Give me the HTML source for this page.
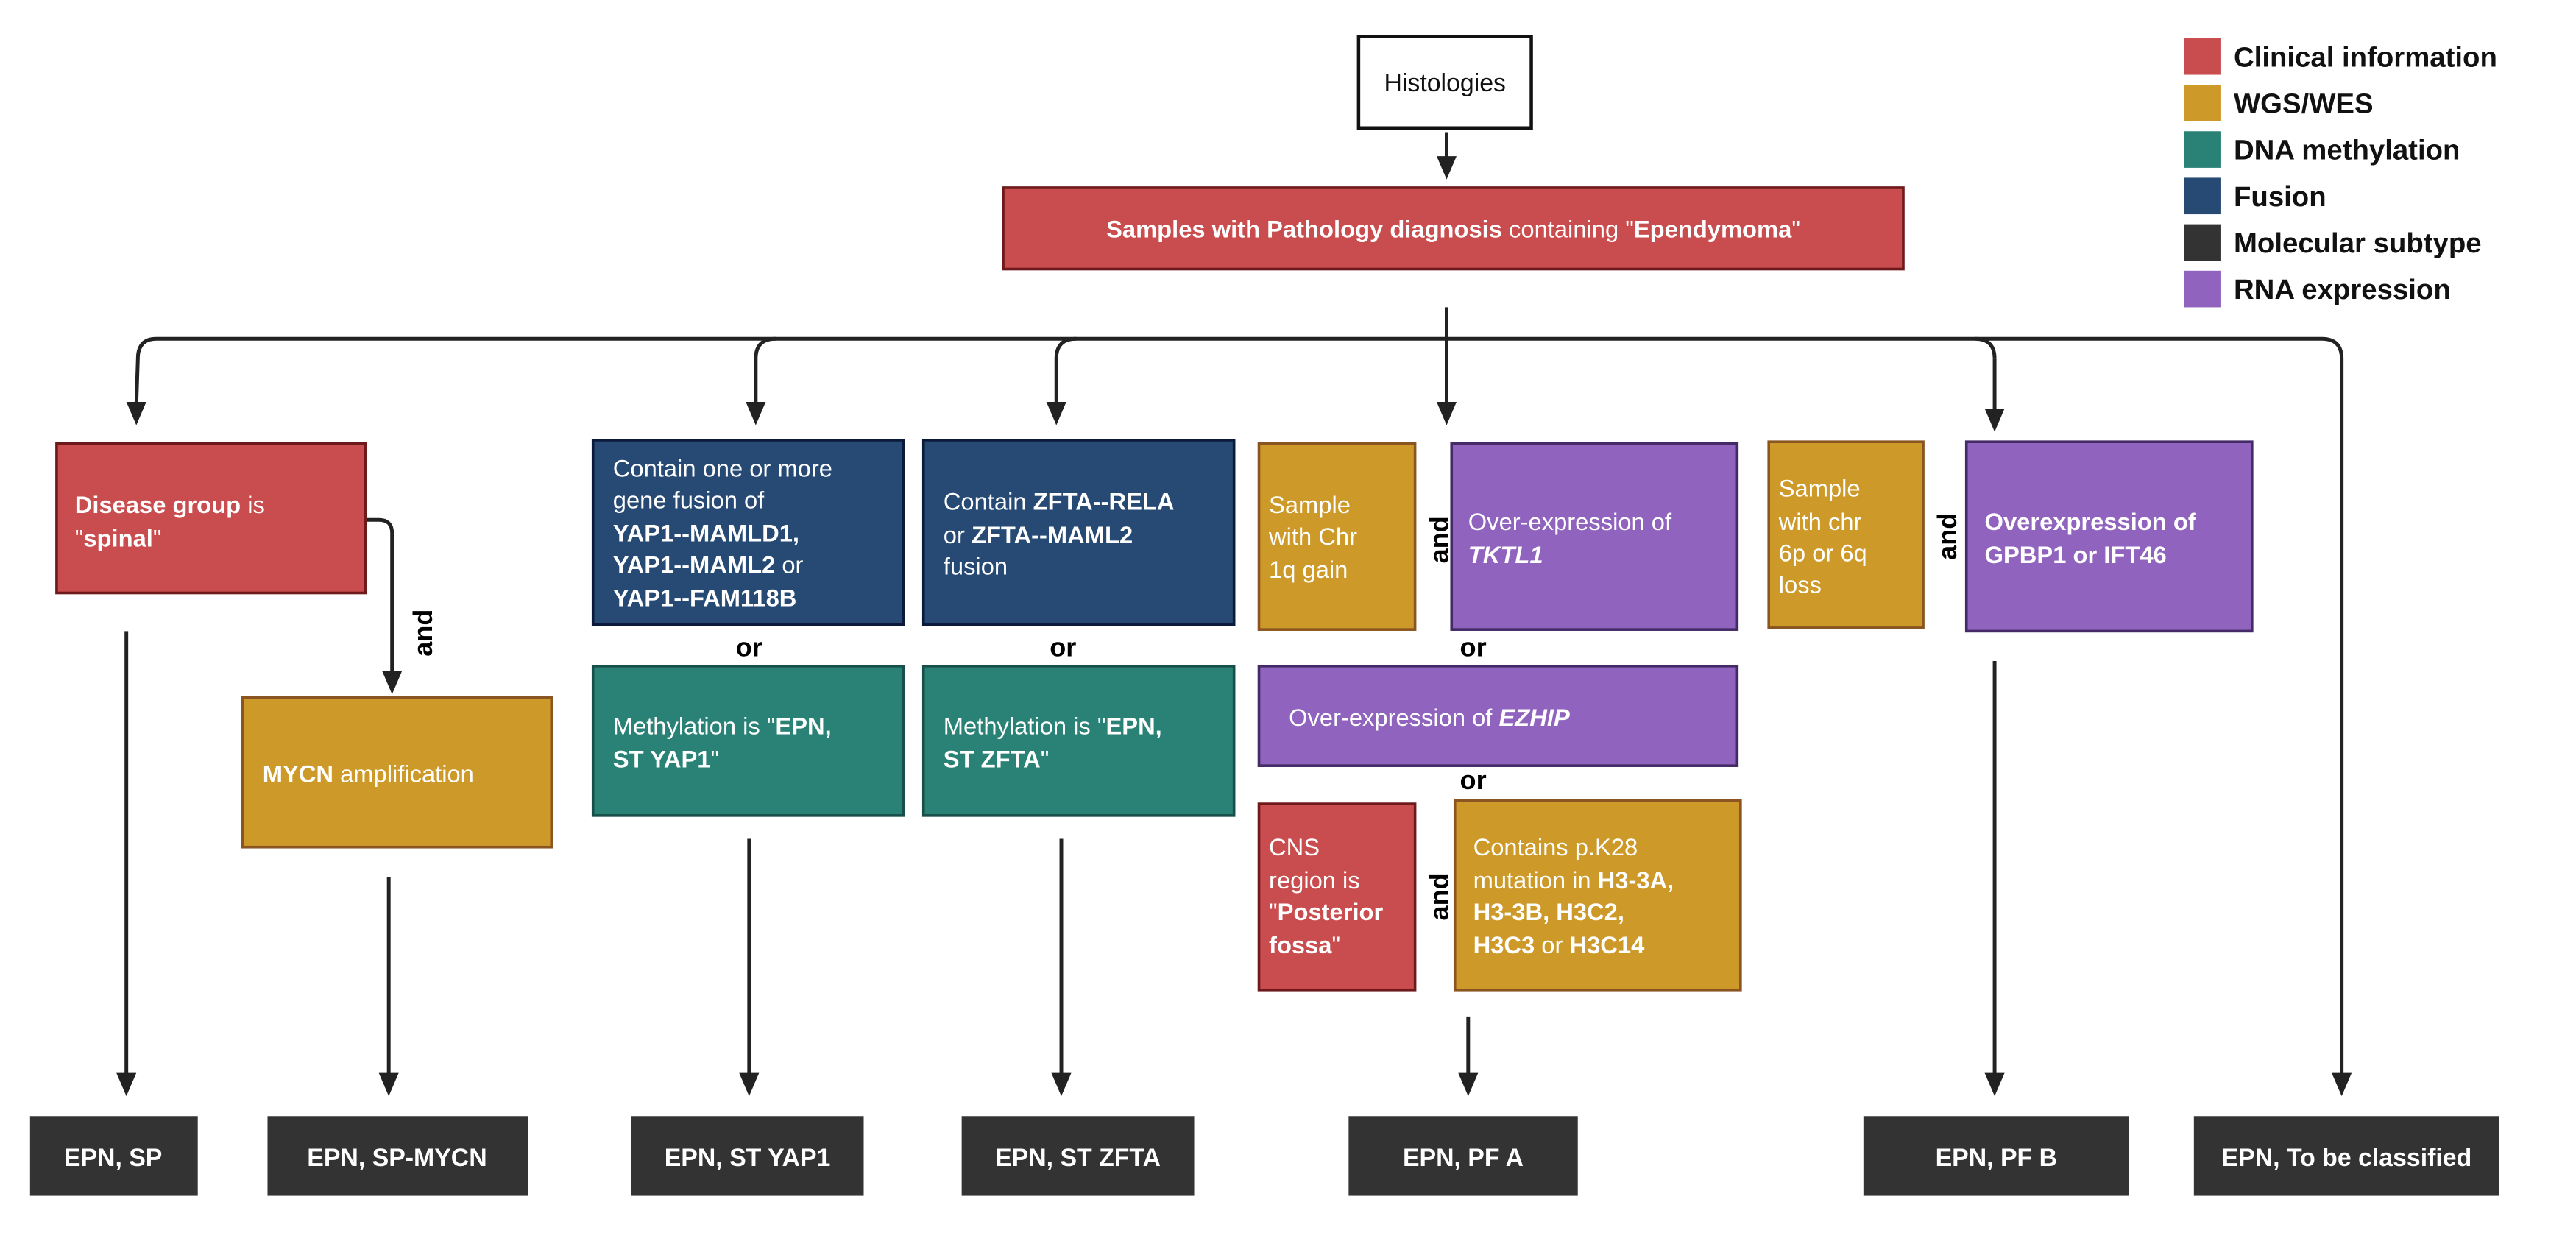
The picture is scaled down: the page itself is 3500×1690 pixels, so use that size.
<!DOCTYPE html>
<html><head><meta charset="utf-8"><style>html,body{margin:0;padding:0;background:#fff}svg{display:block}</style></head>
<body>
<svg width="3500" height="1690" viewBox="0 0 1551 749" xmlns="http://www.w3.org/2000/svg" font-family="'Liberation Sans', sans-serif">
<rect width="1551" height="749" fill="#fff"/>
<g fill="none" stroke="#222" stroke-width="2.2">
<path d="M871 80V96"/>
<path d="M871 185V244"/>
<path d="M1201 216Q1201 204 1189 204H94Q84 204 83 214L82 244"/>
<path d="M455 244V216Q455 204 467 204"/>
<path d="M636 244V216Q636 204 648 204"/>
<path d="M1189 204H1398Q1410 204 1410 216V648"/>
<path d="M1201 216V248"/>
<path d="M220 313H228Q236 313 236 321V406"/>
<path d="M76 380V648"/><path d="M234 528V648"/><path d="M451 505V648"/><path d="M639 505V648"/><path d="M884 612V648"/><path d="M1201 398V648"/>
</g>
<g fill="#222">
<path d="M865 94h12l-6 14z"/>
<path d="M76 242h12l-6 14z"/>
<path d="M449 242h12l-6 14z"/>
<path d="M630 242h12l-6 14z"/>
<path d="M865 242h12l-6 14z"/>
<path d="M1195 246h12l-6 14z"/>
<path d="M230 404h12l-6 14z"/>
<path d="M70 646h12l-6 14z"/><path d="M228 646h12l-6 14z"/><path d="M445 646h12l-6 14z"/><path d="M633 646h12l-6 14z"/><path d="M878 646h12l-6 14z"/><path d="M1195 646h12l-6 14z"/><path d="M1404 646h12l-6 14z"/>
</g>
<rect x="818" y="22" width="104" height="55" fill="#fff" stroke="#111" stroke-width="2"/>
<text x="870" y="55" font-size="15" text-anchor="middle" fill="#111">Histologies</text>
<g stroke-width="1.6">
<rect x="604" y="113" width="542" height="49" fill="#C94D4E" stroke="#6e1a1c"/>
<rect x="34" y="267" width="186" height="90" fill="#C94D4E" stroke="#6e1a1c"/>
<rect x="146" y="420" width="186" height="90" fill="#CD9A29" stroke="#8a5520"/>
<rect x="357" y="265" width="187" height="111" fill="#264A74" stroke="#0b1a3a"/>
<rect x="357" y="401" width="187" height="90" fill="#2A8276" stroke="#17504a"/>
<rect x="556" y="265" width="187" height="111" fill="#264A74" stroke="#0b1a3a"/>
<rect x="556" y="401" width="187" height="90" fill="#2A8276" stroke="#17504a"/>
<rect x="758" y="267" width="94" height="112" fill="#CD9A29" stroke="#8a5520"/>
<rect x="874" y="267" width="172" height="112" fill="#9063BE" stroke="#442a66"/>
<rect x="758" y="401" width="288" height="60" fill="#9063BE" stroke="#442a66"/>
<rect x="758" y="484" width="94" height="112" fill="#C94D4E" stroke="#6e1a1c"/>
<rect x="876" y="482" width="172" height="114" fill="#CD9A29" stroke="#8a5520"/>
<rect x="1065" y="266" width="93" height="112" fill="#CD9A29" stroke="#8a5520"/>
<rect x="1184" y="266" width="172" height="114" fill="#9063BE" stroke="#442a66"/>
</g>
<g fill="#333">
<rect x="18" y="672" width="101" height="48"/><rect x="161" y="672" width="157" height="48"/><rect x="380" y="672" width="140" height="48"/><rect x="579" y="672" width="140" height="48"/><rect x="812" y="672" width="138" height="48"/><rect x="1122" y="672" width="160" height="48"/><rect x="1321" y="672" width="184" height="48"/>
</g>
<g fill="#fff" font-size="15" font-weight="bold" text-anchor="middle">
<text x="68" y="702">EPN, SP</text><text x="239" y="702">EPN, SP-MYCN</text><text x="450" y="702">EPN, ST YAP1</text><text x="649" y="702">EPN, ST ZFTA</text><text x="881" y="702">EPN, PF A</text><text x="1202" y="702">EPN, PF B</text><text x="1413" y="702">EPN, To be classified</text>
</g>
<g fill="#fff" font-size="14.5">
<text x="875" y="143" text-anchor="middle"><tspan font-weight="bold">Samples with Pathology diagnosis</tspan> containing "<tspan font-weight="bold">Ependymoma</tspan>"</text>
<text x="45" y="309"><tspan font-weight="bold">Disease group</tspan> is</text>
<text x="45" y="329">"<tspan font-weight="bold">spinal</tspan>"</text>
<text x="158" y="471"><tspan font-weight="bold">MYCN</tspan> amplification</text>
<text x="369" y="287">Contain one or more</text>
<text x="369" y="306">gene fusion of</text>
<text x="369" y="326" font-weight="bold">YAP1--MAMLD1,</text>
<text x="369" y="345"><tspan font-weight="bold">YAP1--MAML2</tspan> or</text>
<text x="369" y="365" font-weight="bold">YAP1--FAM118B</text>
<text x="369" y="442">Methylation is "<tspan font-weight="bold">EPN,</tspan></text>
<text x="369" y="462"><tspan font-weight="bold">ST YAP1</tspan>"</text>
<text x="568" y="307">Contain <tspan font-weight="bold">ZFTA--RELA</tspan></text>
<text x="568" y="327">or <tspan font-weight="bold">ZFTA--MAML2</tspan></text>
<text x="568" y="346">fusion</text>
<text x="568" y="442">Methylation is "<tspan font-weight="bold">EPN,</tspan></text>
<text x="568" y="462"><tspan font-weight="bold">ST ZFTA</tspan>"</text>
<text x="764" y="309">Sample</text><text x="764" y="328">with Chr</text><text x="764" y="348">1q gain</text>
<text x="884" y="319">Over-expression of</text>
<text x="884" y="339" font-weight="bold" font-style="italic">TKTL1</text>
<text x="776" y="437">Over-expression of <tspan font-weight="bold" font-style="italic">EZHIP</tspan></text>
<text x="764" y="515">CNS</text><text x="764" y="535">region is</text><text x="764" y="554">"<tspan font-weight="bold">Posterior</tspan></text><text x="764" y="574"><tspan font-weight="bold">fossa</tspan>"</text>
<text x="887" y="515">Contains p.K28</text>
<text x="887" y="535">mutation in <tspan font-weight="bold">H3-3A,</tspan></text>
<text x="887" y="554" font-weight="bold">H3-3B, H3C2,</text>
<text x="887" y="574"><tspan font-weight="bold">H3C3</tspan> or <tspan font-weight="bold">H3C14</tspan></text>
<text x="1071" y="299">Sample</text><text x="1071" y="319">with chr</text><text x="1071" y="338">6p or 6q</text><text x="1071" y="357">loss</text>
<text x="1195" y="319" font-weight="bold">Overexpression of</text>
<text x="1195" y="339" font-weight="bold">GPBP1 or IFT46</text>
</g>
<g fill="#000" font-size="16" font-weight="bold" text-anchor="middle">
<text x="451" y="395">or</text><text x="640" y="395">or</text><text x="887" y="395">or</text><text x="887" y="475">or</text>
<text transform="translate(260,381) rotate(-90)">and</text>
<text transform="translate(872,325) rotate(-90)">and</text>
<text transform="translate(872,540) rotate(-90)">and</text>
<text transform="translate(1178,323) rotate(-90)">and</text>
</g>
<g>
<rect x="1315" y="23" width="22" height="22" fill="#C94D4E"/>
<rect x="1315" y="51" width="22" height="22" fill="#CD9A29"/>
<rect x="1315" y="79" width="22" height="22" fill="#2A8276"/>
<rect x="1315" y="107" width="22" height="22" fill="#264A74"/>
<rect x="1315" y="135" width="22" height="22" fill="#333"/>
<rect x="1315" y="163" width="22" height="22" fill="#9063BE"/>
</g>
<g fill="#111" font-size="17" font-weight="bold">
<text x="1345" y="40">Clinical information</text>
<text x="1345" y="68">WGS/WES</text>
<text x="1345" y="96">DNA methylation</text>
<text x="1345" y="124">Fusion</text>
<text x="1345" y="152">Molecular subtype</text>
<text x="1345" y="180">RNA expression</text>
</g>
</svg>
</body></html>
